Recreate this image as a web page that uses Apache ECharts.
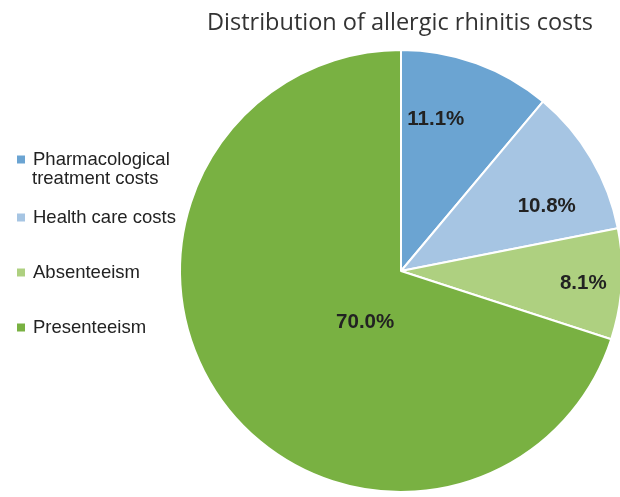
<!DOCTYPE html>
<html>
<head>
<meta charset="utf-8">
<script src="https://cdn.jsdelivr.net/npm/echarts@6/dist/echarts.min.js"></script>
<style>html,body{margin:0;padding:0;background:#fff}#c{width:620px;height:497px}</style>
</head>
<body>
<div id="c"></div>
<script>
var categories = ['Pharmacological', 'Health care costs', 'Absenteeism', 'Presenteeism'];
var values = [11.1, 10.8, 8.1, 70.0];
var colors = ['#6BA4D2', '#A6C5E3', '#AED080', '#79B142'];
var labelOffsets = [[-4, -45], [48, -7], [69, 6], [56, -15]];
var legendTops = [145, 203, 258, 313];

var chart = echarts.init(document.getElementById('c'));
var legends = categories.map(function (name, i) {
  return {
    data: [name],
    left: 10,
    top: legendTops[i],
    orient: 'vertical',
    icon: 'rect',
    itemWidth: 10,
    itemHeight: 10,
    itemGap: 6,
    selectedMode: false,
    textStyle: { fontFamily: 'Liberation Sans', fontSize: 18.5, color: '#222', padding: [0, 0, 0, 2] }
  };
});
chart.setOption({
  animation: false,
  title: {
    text: 'Distribution of allergic rhinitis costs',
    left: 202,
    top: 6,
    textStyle: { fontFamily: 'Open Sans', fontWeight: 'normal', fontSize: 23.5, color: '#333' }
  },
  legend: legends,
  graphic: [{
    type: 'text',
    left: 32,
    top: 169,
    style: { text: 'treatment costs', fontFamily: 'Liberation Sans', fontSize: 18.5, fill: '#222' }
  }],
  series: [{
    type: 'pie',
    center: [401, 271],
    radius: [0, 221],
    startAngle: 90,
    clockwise: true,
    itemStyle: { borderColor: '#fff', borderWidth: 2 },
    label: {
      show: true,
      position: 'inside',
      fontFamily: 'Liberation Sans',
      fontWeight: 'bold',
      fontSize: 20.5,
      color: '#222',
      formatter: function (p) { return p.value.toFixed(1) + '%'; }
    },
    labelLine: { show: false },
    data: categories.map(function (name, i) {
      return {
        name: name,
        value: values[i],
        itemStyle: { color: colors[i] },
        label: { offset: labelOffsets[i] }
      };
    })
  }]
});
</script>
</body>
</html>
